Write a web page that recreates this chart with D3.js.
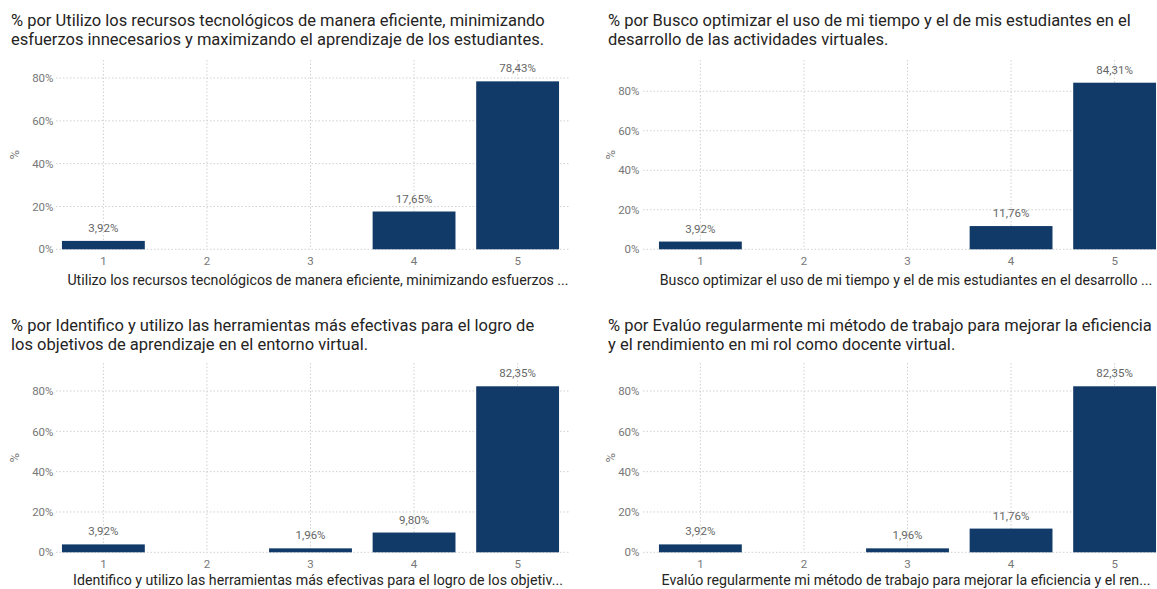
<!DOCTYPE html>
<html>
<head>
<meta charset="utf-8">
<script src="https://cdn.jsdelivr.net/npm/d3@7/dist/d3.min.js"></script>
<style>
  html, body { margin: 0; padding: 0; background: #ffffff; }
  svg { display: block; }
  text { font-family: Roboto, "Noto Sans", sans-serif; }
</style>
</head>
<body>
<svg id="chart" width="1157" height="589"></svg>
<script>
// Response scale (1 = lowest, 5 = highest)
const categories = ["1", "2", "3", "4", "5"];

// Share of respondents per answer, in percent (null = no responses)
const utilizoValues      = [3.92, null, null, 17.65, 78.43];
const buscoValues        = [3.92, null, null, 11.76, 84.31];
const identificoValues   = [3.92, null, 1.96, 9.80, 82.35];
const evaluoValues       = [3.92, null, 1.96, 11.76, 82.35];

// Upper end of each value axis, in percent
const axisMax = [88.4, 95.8, 93.9, 93.9];

const yTicks = [0, 20, 40, 60, 80];

const titles = [
  ["% por Utilizo los recursos tecnológicos de manera eficiente, minimizando",
   "esfuerzos innecesarios y maximizando el aprendizaje de los estudiantes."],
  ["% por Busco optimizar el uso de mi tiempo y el de mis estudiantes en el",
   "desarrollo de las actividades virtuales."],
  ["% por Identifico y utilizo las herramientas más efectivas para el logro de",
   "los objetivos de aprendizaje en el entorno virtual."],
  ["% por Evalúo regularmente mi método de trabajo para mejorar la eficiencia",
   "y el rendimiento en mi rol como docente virtual."]
];

const axisTitles = [
  "Utilizo los recursos tecnológicos de manera eficiente, minimizando esfuerzos ...",
  "Busco optimizar el uso de mi tiempo y el de mis estudiantes en el desarrollo ...",
  "Identifico y utilizo las herramientas más efectivas para el logro de los objetiv...",
  "Evalúo regularmente mi método de trabajo para mejorar la eficiencia y el ren..."
];

const seriesList = [utilizoValues, buscoValues, identificoValues, evaluoValues];

// Layout of the 2 x 2 grid of small multiples
const columns = [
  { x0: 51.6, x1: 569.4, tickRight: 53.5, gridStart: 56, titleX: 11, axisTitleX: 318, yTitleX: 16 },
  { x0: 648.6, x1: 1166.4, tickRight: 639.5, gridStart: 643, titleX: 608, axisTitleX: 906, yTitleX: 612 }
];
const rows = [
  { plotDy: 0, titleDy: 0, axisTitleDy: 0 },
  { plotDy: 303, titleDy: 305, axisTitleDy: 300 }
];
const plotTop = 60, plotBottom = 249.3;

const barColor = "#123a69";
const gridColor = "#d0d0d0";
const titleColor = "#252423";
const tickColor = "#777777";
const labelColor = "#666666";

const fmtPct = v => d3.format(".2f")(v).replace(".", ",") + "%";

const svg = d3.select("#chart");

seriesList.forEach((values, i) => {
  const col = columns[i % 2];
  const row = rows[Math.floor(i / 2)];
  const g = svg.append("g");

  const x = d3.scaleBand()
    .domain(categories)
    .range([col.x0, col.x1])
    .paddingInner(0.2)
    .paddingOuter(0.1);

  const y = d3.scaleLinear()
    .domain([0, axisMax[i]])
    .range([plotBottom + row.plotDy, plotTop + row.plotDy]);

  // Title (two lines)
  g.append("text")
    .attr("x", col.titleX)
    .attr("y", 26 + row.titleDy)
    .attr("fill", titleColor)
    .style("font-size", "16.5px")
    .selectAll("tspan")
    .data(titles[i])
    .join("tspan")
    .attr("x", col.titleX)
    .attr("dy", (d, k) => k === 0 ? 0 : 18.8)
    .text(d => d);

  // Horizontal dotted gridlines
  g.append("g")
    .selectAll("line")
    .data(yTicks)
    .join("line")
    .attr("x1", col.gridStart)
    .attr("x2", col.x1)
    .attr("y1", d => y(d))
    .attr("y2", d => y(d))
    .attr("stroke", gridColor)
    .attr("stroke-width", 1)
    .attr("stroke-dasharray", "1.5,2");

  // Vertical dotted gridlines at each category
  g.append("g")
    .selectAll("line")
    .data(categories)
    .join("line")
    .attr("x1", d => x(d) + x.bandwidth() / 2)
    .attr("x2", d => x(d) + x.bandwidth() / 2)
    .attr("y1", plotTop + row.plotDy)
    .attr("y2", plotBottom + row.plotDy)
    .attr("stroke", gridColor)
    .attr("stroke-width", 1)
    .attr("stroke-dasharray", "1.5,2");

  // Y axis tick labels
  const yAxis = d3.axisLeft(y)
    .tickValues(yTicks)
    .tickFormat(d => d + "%")
    .tickSize(0)
    .tickPadding(0);
  const yg = g.append("g")
    .attr("transform", `translate(${col.tickRight},0)`)
    .call(yAxis);
  yg.select(".domain").remove();
  yg.selectAll("text")
    .attr("fill", tickColor)
    .style("font-size", "11.5px")
    .style("font-family", "Roboto, sans-serif");

  // Y axis title
  g.append("text")
    .attr("transform", `translate(${col.yTitleX},${(plotTop + plotBottom) / 2 + row.plotDy}) rotate(-90)`)
    .attr("text-anchor", "middle")
    .attr("dominant-baseline", "middle")
    .attr("fill", tickColor)
    .style("font-size", "13px")
    .text("%");

  // X axis category labels
  const xAxis = d3.axisBottom(x).tickSize(0).tickPadding(0);
  const xg = g.append("g")
    .attr("transform", `translate(0,${plotBottom + row.plotDy + 8})`)
    .call(xAxis);
  xg.select(".domain").remove();
  xg.selectAll("text")
    .attr("fill", tickColor)
    .style("font-size", "11.5px")
    .style("font-family", "Roboto, sans-serif");

  // X axis title
  g.append("text")
    .attr("x", col.axisTitleX)
    .attr("y", 284.5 + row.axisTitleDy)
    .attr("text-anchor", "middle")
    .attr("fill", titleColor)
    .style("font-size", "14.2px")
    .text(axisTitles[i]);

  const data = categories.map((c, k) => ({ cat: c, value: values[k] }))
    .filter(d => d.value != null);

  // Bars
  g.append("g")
    .selectAll("rect")
    .data(data)
    .join("rect")
    .attr("x", d => x(d.cat))
    .attr("width", x.bandwidth())
    .attr("y", d => y(d.value))
    .attr("height", d => y(0) - y(d.value))
    .attr("fill", barColor);

  // Data labels
  g.append("g")
    .selectAll("text")
    .data(data)
    .join("text")
    .attr("x", d => x(d.cat) + x.bandwidth() / 2)
    .attr("y", d => y(d.value) - 9)
    .attr("text-anchor", "middle")
    .attr("fill", labelColor)
    .style("font-size", "11.5px")
    .text(d => fmtPct(d.value));
});
</script>
</body>
</html>
